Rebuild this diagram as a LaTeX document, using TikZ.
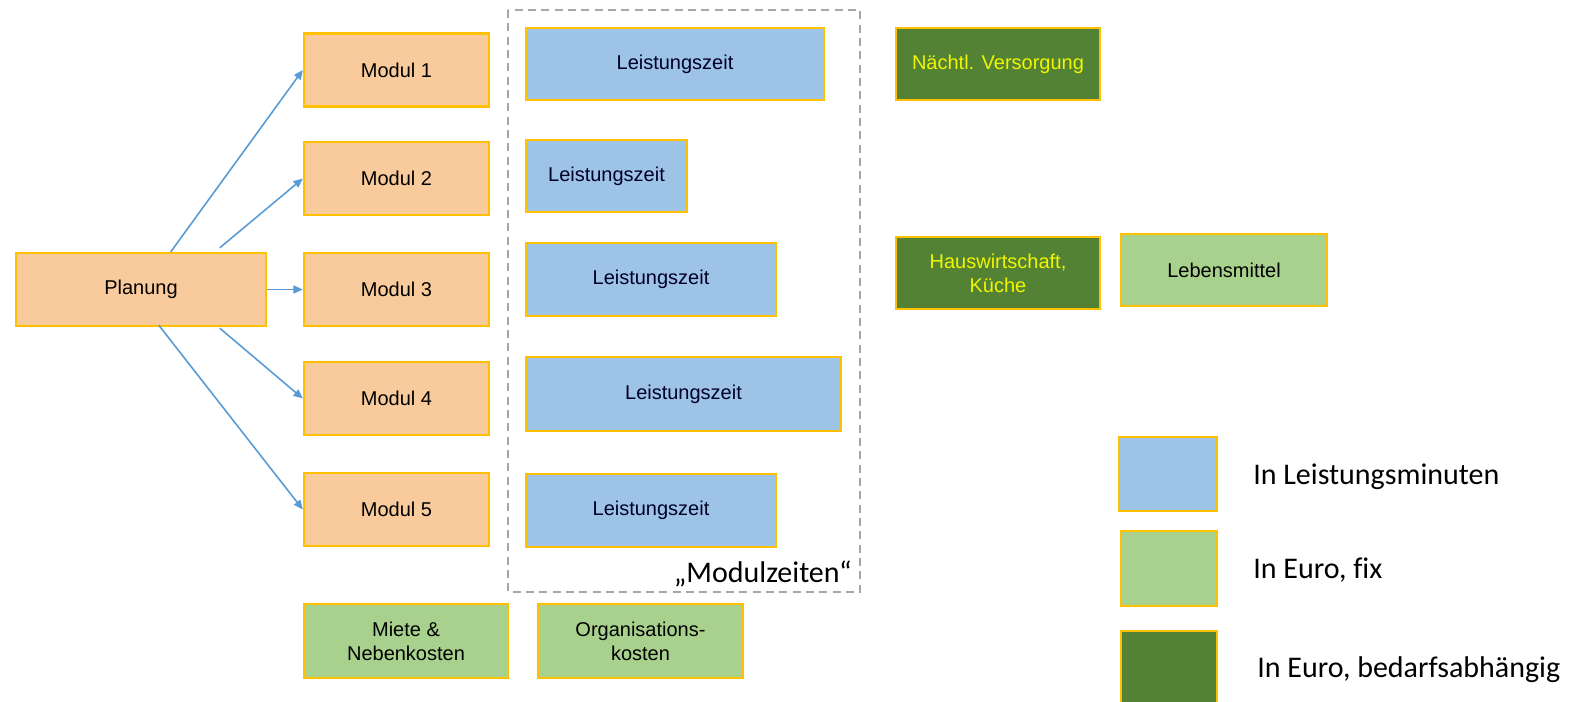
\documentclass[tikz,border=0pt]{standalone}
\usepackage{fontspec}
\setmainfont{Liberation Sans}
\newfontfamily\calfont[Ligatures=NoCommon]{Carlito}
\usetikzlibrary{arrows.meta,calc}
\definecolor{orfill}{HTML}{F9CB9C}
\definecolor{gold}{HTML}{FFC000}
\definecolor{bluefill}{HTML}{9DC3E6}
\definecolor{lgreen}{HTML}{A9D18E}
\definecolor{dgreen}{HTML}{548235}
\definecolor{ytext}{HTML}{F0F500}
\definecolor{arrblue}{HTML}{5B9BD5}
\definecolor{dashgray}{HTML}{A6A6A6}
\tikzset{
  sz/.style 2 args={minimum width=#1*0.75pt, minimum height=#2*0.75pt},
  basebox/.style={draw=gold, line width=1.8pt, inner sep=0pt, align=center, font=\fontsize{15}{18}\selectfont},
  orbox/.style={basebox, fill=orfill},
  bluebox/.style={basebox, fill=bluefill, text=black!85!blue},
  lgbox/.style={basebox, fill=lgreen},
  dgbox/.style={basebox, fill=dgreen, text=ytext},
  arr/.style={draw=arrblue, line width=1.2pt, -{Triangle[length=7pt,width=6pt]}},
  legtext/.style={anchor=base west, inner sep=0pt, font=\calfont\fontsize{22.5}{27}\selectfont}
}
\begin{document}
\begin{tikzpicture}[x=0.75pt, y=-0.75pt]
\useasboundingbox (0,0) rectangle (1574,701);
% dashed group
\draw[dashgray, line width=1.2pt, dash pattern=on 6pt off 4pt] (508,10) rectangle (860,592);
% left column
\node[orbox, sz={250}{73}] (plan) at (141,289.5) {Planung};
\node[orbox, sz={185}{73}] (m1) at (396.5,70) {Modul 1};
\node[orbox, sz={185}{73}] (m2) at (396.5,178.5) {Modul 2};
\node[orbox, sz={185}{73}] (m3) at (396.5,289.5) {Modul 3};
\node[orbox, sz={185}{73}] (m4) at (396.5,398.5) {Modul 4};
\node[orbox, sz={185}{73}] (m5) at (396.5,509.5) {Modul 5};
% Leistungszeit
\node[bluebox, sz={298}{72}] (l1) at (675,64) {Leistungszeit};
\node[bluebox, sz={161}{72}] (l2) at (606.5,176) {Leistungszeit};
\node[bluebox, sz={250}{73}] (l3) at (651,279.5) {Leistungszeit};
\node[bluebox, sz={315}{74}] (l4) at (683.5,394) {Leistungszeit};
\node[bluebox, sz={250}{73}] (l5) at (651,510.5) {Leistungszeit};
\node[anchor=base east, inner sep=0pt, font=\calfont\fontsize{22.5}{27}\selectfont] (mz) at (852,582) {„Modulzeiten“};
% right boxes
\node[dgbox, sz={204}{72}] (nv) at (998,64) {Nächtl. Versorgung};
\node[dgbox, sz={204}{72}] (hw) at (998,273) {Hauswirtschaft,\\Küche};
\node[lgbox, sz={206}{72}] (lm) at (1224,270) {Lebensmittel};
% bottom
\node[lgbox, sz={204}{74}] (mi) at (406,641) {Miete \&\\Nebenkosten};
\node[lgbox, sz={205}{74}] (org) at (640.5,641) {Organisations-\\kosten};
% legend
\node[basebox, fill=bluefill, sz={98}{74}] (lg1) at (1168,474) {};
\node[basebox, fill=lgreen, sz={96}{75}] (lg2) at (1169,568.5) {};
\node[basebox, fill=dgreen, sz={96}{84}] (lg3) at (1169,673) {};
\node[legtext] (t1) at (1253,484) {In Leistungsminuten};
\node[legtext] (t2) at (1253,578) {In Euro, fix};
\node[legtext] (t3) at (1257,677) {In Euro, bedarfsabhängig};
% arrows
\draw[arr] ($(plan.north west)+(156,0)$) -- (m1.west);
\draw[arr] ($(plan.north west)+(205,-4)$) -- (m2.west);
\draw[arr] (plan.east) -- (m3.west);
\draw[arr] ($(plan.south west)+(205,1)$) -- (m4.west);
\draw[arr] ($(plan.south west)+(144,-2)$) -- (m5.west);
\end{tikzpicture}
\end{document}
